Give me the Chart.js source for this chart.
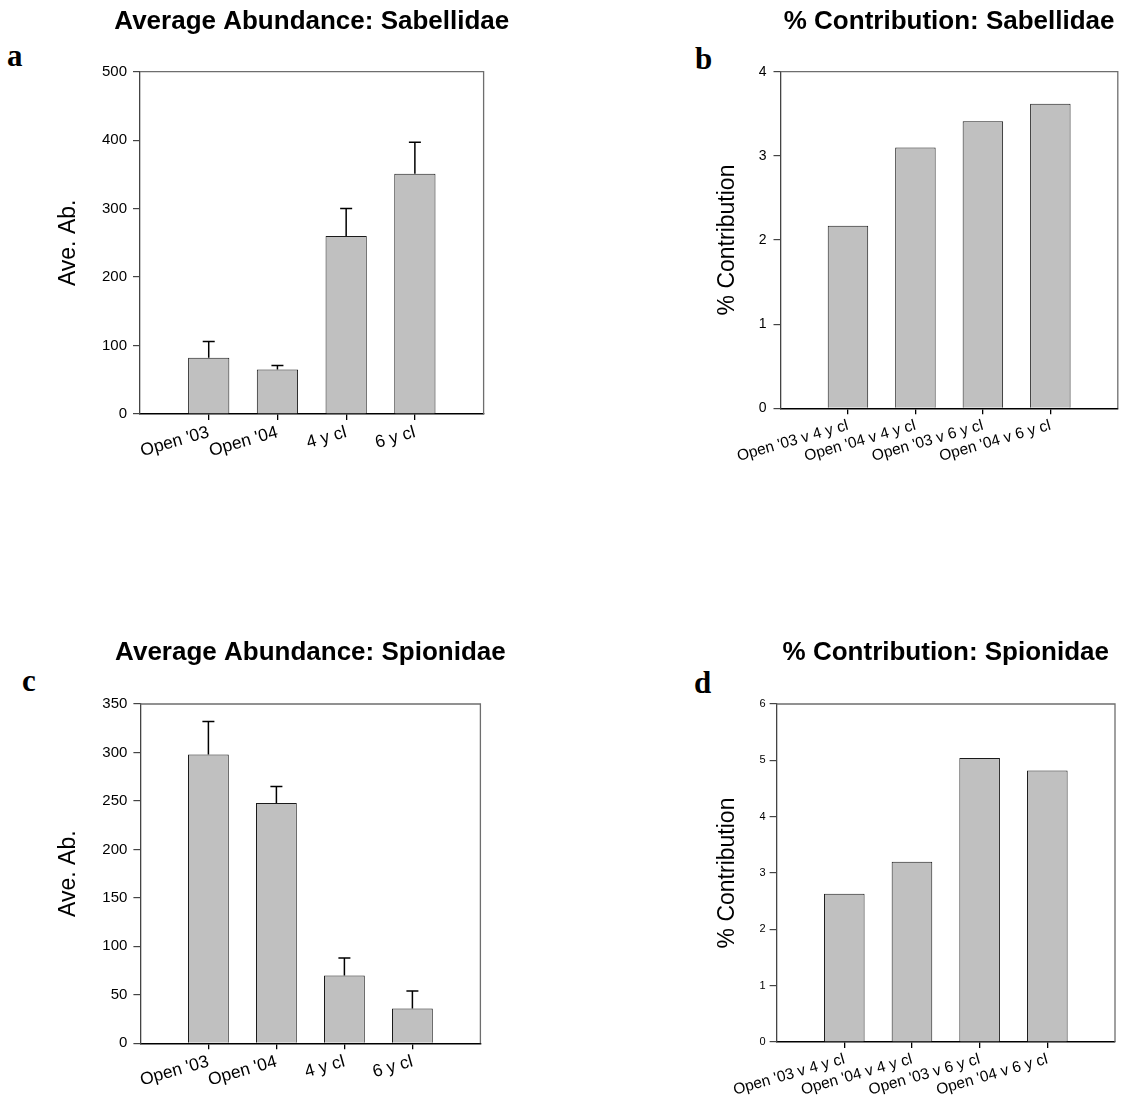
<!DOCTYPE html>
<html><head><meta charset="utf-8">
<script src="https://cdn.jsdelivr.net/npm/chart.js@4.4.1/dist/chart.umd.min.js"></script>
<style>
html,body{margin:0;padding:0;background:#fff;overflow:hidden;}
body{width:1125px;height:1095px;position:relative;overflow:hidden;}
canvas{position:absolute;}
.lbl{position:absolute;font-family:"Liberation Serif","Times New Roman",serif;font-weight:bold;font-size:31px;line-height:31px;color:#000;}
</style></head><body>
<div class="lbl" style="left:7px;top:40px">a</div>
<div class="lbl" style="left:695px;top:43px">b</div>
<div class="lbl" style="left:22px;top:665px">c</div>
<div class="lbl" style="left:694px;top:667px">d</div>
<canvas id="ca"></canvas>
<canvas id="cb"></canvas>
<canvas id="cc"></canvas>
<canvas id="cd"></canvas>
<script>
// ---- data ----
const abundCategories = ["Open '03", "Open '04", "4 y cl", "6 y cl"];
const contribCategories = ["Open '03 v 4 y cl", "Open '04 v 4 y cl", "Open '03 v 6 y cl", "Open '04 v 6 y cl"];
const sabellidaeAbundance = [82, 65, 260, 351];
const sabellidaeSE = [24, 6, 40, 46];
const sabellidaeContribution = [2.17, 3.10, 3.41, 3.62];
const spionidaeAbundance = [298, 248, 70, 36];
const spionidaeSE = [34, 17, 18, 18];
const spionidaeContribution = [2.63, 3.20, 5.04, 4.82];
const titles = ["Average Abundance: Sabellidae", "% Contribution: Sabellidae", "Average Abundance: Spionidae", "% Contribution: Spionidae"];
const yTitles = ["Ave. Ab.", "% Contribution", "Ave. Ab.", "% Contribution"];
const yRanges = [[0, 500, 100], [0, 4, 1], [0, 350, 50], [0, 6, 1]];

// ---- layout ----
const panels = [
  {id:'ca', x:0, y:0, w:560, h:548, plot:{l:140, r:483.6, t:71.7, b:414}, titleY:22, yTitleX:68.4, tickFont:15, yPad:6, xFont:17.5,
   cats:abundCategories, values:sabellidaeAbundance, se:sabellidaeSE, title:titles[0], yTitle:yTitles[0], range:yRanges[0]},
  {id:'cb', x:560, y:0, w:565, h:548, plot:{l:780.5, r:1117.8, t:71.7, b:408.3}, titleY:22, yTitleX:727.6, tickFont:14, yPad:7, xFont:15.5,
   cats:contribCategories, values:sabellidaeContribution, se:null, title:titles[1], yTitle:yTitles[1], range:yRanges[1]},
  {id:'cc', x:0, y:548, w:560, h:547, plot:{l:140.4, r:480.4, t:704, b:1043.3}, titleY:652.5, yTitleX:68.4, tickFont:15, yPad:6, xFont:17.5,
   cats:abundCategories, values:spionidaeAbundance, se:spionidaeSE, title:titles[2], yTitle:yTitles[2], range:yRanges[2]},
  {id:'cd', x:560, y:548, w:565, h:547, plot:{l:776.6, r:1115, t:704, b:1042}, titleY:653, yTitleX:727.6, tickFont:11, yPad:4, xFont:15.5,
   cats:contribCategories, values:spionidaeContribution, se:null, title:titles[3], yTitle:yTitles[3], range:yRanges[3]}
];

const FONT = "'Liberation Sans', Arial, sans-serif";

// title centred over the plot area (no width squeezing)
const panelTitlePlugin = {
  id:'panelTitle',
  afterDraw(chart, args, opts){
    if (!opts || !opts.text) return;
    const {left, right} = chart.chartArea;
    const ctx = chart.ctx;
    ctx.save();
    ctx.font = 'bold ' + opts.size + 'px ' + FONT;
    ctx.fillStyle = '#000';
    ctx.textAlign = 'center';
    ctx.textBaseline = 'middle';
    ctx.fillText(opts.text, (left + right) / 2, opts.y);
    ctx.restore();
  }
};

const framePlugin = {
  id:'frame',
  afterDraw(chart){
    const {left,right,top,bottom} = chart.chartArea;
    const ctx = chart.ctx;
    ctx.save();
    ctx.strokeStyle = '#6e6e6e';
    ctx.lineWidth = 1.3;
    ctx.beginPath();
    ctx.moveTo(left, top); ctx.lineTo(right, top); ctx.lineTo(right, bottom);
    ctx.stroke();
    ctx.restore();
  }
};

const errorBarPlugin = {
  id:'errbars',
  afterDatasetsDraw(chart){
    const ds = chart.data.datasets[0];
    if (!ds.se) return;
    const meta = chart.getDatasetMeta(0);
    const ys = chart.scales.y;
    const ctx = chart.ctx;
    ctx.save();
    ctx.strokeStyle = '#000';
    ctx.lineWidth = 1.5;
    meta.data.forEach((bar, i) => {
      const v = ds.data[i], e = ds.se[i];
      if (v == null || e == null) return;
      const yt = ys.getPixelForValue(v + e);
      ctx.beginPath();
      ctx.moveTo(bar.x, bar.y); ctx.lineTo(bar.x, yt);
      ctx.moveTo(bar.x - 6, yt); ctx.lineTo(bar.x + 6, yt);
      ctx.stroke();
    });
    ctx.restore();
  }
};

function makeChart(p){
  const cv = document.getElementById(p.id);
  const w = p.w;
  cv.width = w; cv.height = p.h;
  cv.style.left = p.x + 'px'; cv.style.top = p.y + 'px';
  cv.style.width = w + 'px'; cv.style.height = p.h + 'px';
  const plotL = p.plot.l - p.x, plotR = p.plot.r - p.x, plotT = p.plot.t - p.y, plotB = p.plot.b - p.y;
  const ytSize = 23, ytLH = ytSize * 1.2;
  const labels = ['', ...p.cats, ''];
  const data = [null, ...p.values, null];
  const se = p.se ? [null, ...p.se, null] : null;
  const last = labels.length - 1;
  new Chart(cv, {
    type:'bar',
    data:{labels, datasets:[{data, se, backgroundColor:'#c0c0c0', borderColor:'#1a1a1a', borderWidth:1,
      barPercentage:0.6, categoryPercentage:1}]},
    options:{
      responsive:false, animation:false, devicePixelRatio:1, maintainAspectRatio:false,
      layout:{padding:{left:0, top:plotT, right:w - plotR, bottom:0}},
      plugins:{
        legend:{display:false}, tooltip:{enabled:false}, title:{display:false},
        panelTitle:{text:p.title, size:26, y:p.titleY - p.y}
      },
      scales:{
        x:{type:'category', offset:false,
          grid:{display:true, offset:false, drawOnChartArea:false, drawTicks:true, tickLength:6, lineWidth:1.3,
            color:c => (c.index === 0 || c.index === last) ? 'rgba(0,0,0,0)' : '#000'},
          border:{display:true, color:'#000', width:1.5},
          ticks:{autoSkip:false, minRotation:16, maxRotation:16, padding:2, color:'#000', font:{family:FONT, size:p.xFont}},
          afterFit:s => { s.height = p.h - plotB; }
        },
        y:{min:p.range[0], max:p.range[1],
          ticks:{stepSize:p.range[2], padding:p.yPad, color:'#000', font:{family:FONT, size:p.tickFont}},
          grid:{display:true, drawOnChartArea:false, drawTicks:true, tickLength:7, color:'#444', lineWidth:1.2},
          border:{display:true, color:'#444', width:1.3},
          title:{display:true, text:p.yTitle, color:'#000', font:{family:FONT, size:ytSize, lineHeight:1.2},
            padding:{top:(p.yTitleX - p.x) - ytLH/2, bottom:0}},
          afterFit:s => { s.width = plotL; }
        }
      }
    },
    plugins:[panelTitlePlugin, framePlugin, errorBarPlugin]
  });
}
panels.forEach(makeChart);
</script>
</body></html>
